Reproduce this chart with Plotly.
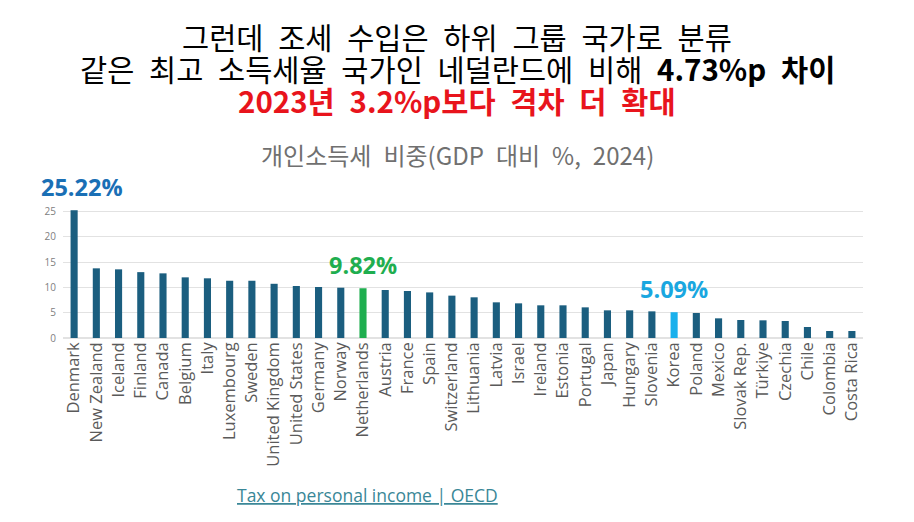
import plotly.graph_objects as go

countries = ['Denmark', 'New Zealand', 'Iceland', 'Finland', 'Canada', 'Belgium', 'Italy',
             'Luxembourg', 'Sweden', 'United Kingdom', 'United States', 'Germany', 'Norway',
             'Netherlands', 'Austria', 'France', 'Spain', 'Switzerland', 'Lithuania', 'Latvia',
             'Israel', 'Ireland', 'Estonia', 'Portugal', 'Japan', 'Hungary', 'Slovenia', 'Korea',
             'Poland', 'Mexico', 'Slovak Rep.', 'Türkiye', 'Czechia', 'Chile', 'Colombia',
             'Costa Rica']
share = [25.22, 13.75, 13.55, 13.0, 12.76, 11.97, 11.78,
         11.3, 11.3, 10.7, 10.26, 10.07, 9.93,
         9.82, 9.47, 9.28, 9.0, 8.36, 8.03, 7.04,
         6.84, 6.45, 6.45, 6.05, 5.46, 5.46, 5.26, 5.09,
         4.93, 3.88, 3.55, 3.49, 3.36, 2.17, 1.38,
         1.38]
y_ticks = [0, 5, 10, 15, 20, 25, 30]
y_labels = ['0', '5', '10', '15', '20', '25', '']

highlight = {'Netherlands': '#1fae4f', 'Korea': '#1ab0ec'}
colors = [highlight.get(c, '#1b5e7f') for c in countries]

kfont = 'Noto Sans CJK KR'
sp = '\u2002'  # wider word gap, closer to the original headline font

fig = go.Figure(go.Bar(x=countries, y=share, marker_color=colors, marker_line_width=0))

# value callouts above the three bars of interest
callouts = [('Denmark', '#1a6fb5', 8), ('Netherlands', '#1fae4f', 0), ('Korea', '#1aa7e0', 0)]
for name, col, dx in callouts:
    v = share[countries.index(name)]
    fig.add_annotation(x=name, y=v, text='<b>%.2f%%</b>' % v,
                       showarrow=False, yanchor='middle', yshift=23, xshift=dx,
                       font=dict(family='Open Sans', size=23.5, color=col))

# headline lines
head = dict(xref='paper', yref='paper', showarrow=False, xanchor='center', yanchor='middle')
fig.add_annotation(x=0.4925, y=1.987, **head,
                   text=sp.join('그런데 조세 수입은 하위 그룹 국가로 분류'.split()),
                   font=dict(family=kfont, size=29.5, color='black'))
fig.add_annotation(x=0.4925, y=1.776, **head,
                   text=sp.join('같은 최고 소득세율 국가인 네덜란드에 비해'.split()) + sp + '<b>4.73%p' + sp + '차이</b>',
                   font=dict(family=kfont, size=29.5, color='black'))
fig.add_annotation(x=0.4925, y=1.566, **head,
                   text='<b>' + sp.join('2023년 3.2%p보다 격차 더 확대'.split()) + '</b>',
                   font=dict(family=kfont, size=29.5, color='#e8141c'))
fig.add_annotation(x=0.4925, y=1.204, **head,
                   text=sp.join('개인소득세 비중(GDP 대비 %, 2024)'.split()),
                   font=dict(family=kfont, size=24, color='#707070'))
fig.add_annotation(x=0.215, y=-1.033, xref='paper', yref='paper', showarrow=False,
                   xanchor='left', yanchor='middle', text='<u>Tax on personal income | OECD</u>',
                   font=dict(family='Open Sans', size=17.5, color='#3a8797'))

fig.update_layout(
    width=906, height=514,
    margin=dict(l=55, r=51, t=178, b=184),
    paper_bgcolor='white', plot_bgcolor='white',
    bargap=0.68, showlegend=False,
    xaxis=dict(tickangle=-90, tickfont=dict(family='Open Sans', size=16.5, color='#5a5a5a'),
               range=[-0.5, len(countries) - 0.5],
               showgrid=False, ticks='', showline=False, automargin=False),
    yaxis=dict(range=[0, 30], tickvals=y_ticks, ticktext=y_labels,
               tickfont=dict(family='Open Sans', size=10, color='#808080'),
               gridcolor='#e2e2e2', gridwidth=1, zeroline=True, zerolinecolor='#e2e2e2',
               showline=False, ticklabelstandoff=6, automargin=False),
)

fig.write_html('out.html')
